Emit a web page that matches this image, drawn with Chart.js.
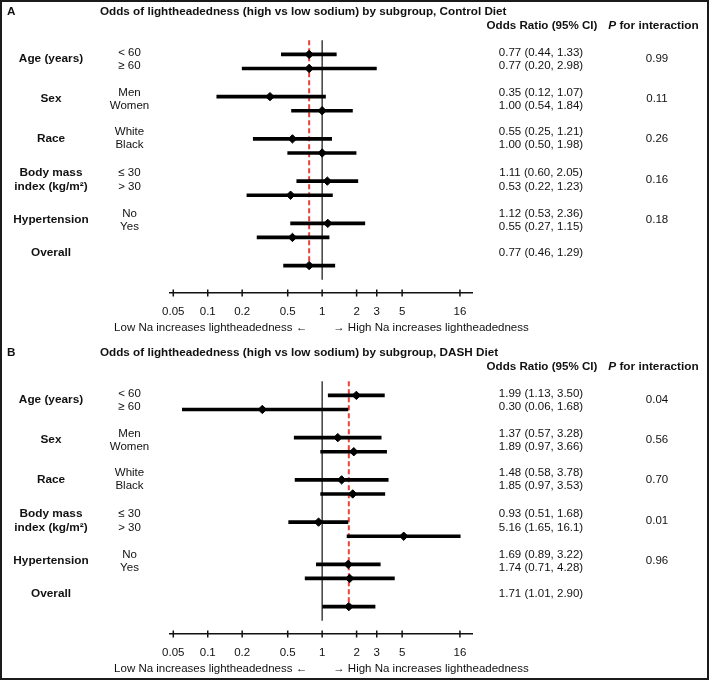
<!DOCTYPE html>
<html>
<head>
<meta charset="utf-8">
<script src="https://cdn.jsdelivr.net/npm/chart.js@4"></script>
<style>
  html, body { margin: 0; padding: 0; background: #fff; }
  #page { position: relative; width: 709px; height: 680px; overflow: hidden; }
  #page canvas { position: absolute; left: 0; }
  #frame { position: absolute; left: 0; top: 0; width: 709px; height: 680px; box-sizing: border-box; border: 2px solid #1b1b1b; pointer-events: none; }
</style>
</head>
<body>
<div id="page">
  <canvas id="chartA" width="709" height="340" style="top:0"></canvas>
  <canvas id="chartB" width="709" height="340" style="top:340px"></canvas>
  <div id="frame"></div>
</div>
<script>
const tickValues = [0.05, 0.1, 0.2, 0.5, 1, 2, 3, 5, 16];
const groupLabels = [['Age (years)'], ['Sex'], ['Race'], ['Body mass', 'index (kg/m²)'], ['Hypertension'], ['Overall']];
const subgroupLabels = ['< 60', '≥ 60', 'Men', 'Women', 'White', 'Black', '≤ 30', '> 30', 'No', 'Yes'];

// Control diet (last entry = overall)
const controlOR = [0.77, 0.77, 0.35, 1.00, 0.55, 1.00, 1.11, 0.53, 1.12, 0.55, 0.77];
const controlLo = [0.44, 0.20, 0.12, 0.54, 0.25, 0.50, 0.60, 0.22, 0.53, 0.27, 0.46];
const controlHi = [1.33, 2.98, 1.07, 1.84, 1.21, 1.98, 2.05, 1.23, 2.36, 1.15, 1.29];
const controlP = ['0.99', '0.11', '0.26', '0.16', '0.18'];

// DASH diet (last entry = overall)
const dashOR = [1.99, 0.30, 1.37, 1.89, 1.48, 1.85, 0.93, 5.16, 1.69, 1.74, 1.71];
const dashLo = [1.13, 0.06, 0.57, 0.97, 0.58, 0.97, 0.51, 1.65, 0.89, 0.71, 1.01];
const dashHi = [3.50, 1.68, 3.28, 3.66, 3.78, 3.53, 1.68, 16.1, 3.22, 4.28, 2.90];
const dashP = ['0.04', '0.56', '0.70', '0.01', '0.96'];

const FONT = '"Liberation Sans", Arial, Helvetica, sans-serif';
// y slots for the plotted rows (one blank slot between groups) and for the table text
const rowSlots = [0, 1, 3, 4, 6, 7, 9, 10, 12, 13, 15];
const textSlots = [-0.1, 0.79, 2.71, 3.62, 5.5, 6.43, 8.39, 9.42, 11.33, 12.22, 14.1];

function fmt(v) {
    return v >= 10 ? v.toFixed(1) : v.toFixed(2);
}

const forestText = {
    id: 'forestText',
    afterDraw(chart, args, opts) {
        const ctx = chart.ctx;
        const x = chart.scales.x, y = chart.scales.y, area = chart.chartArea;
        ctx.save();
        ctx.fillStyle = '#111';
        ctx.textBaseline = 'middle';

        ctx.font = 'bold 11.7px ' + FONT;
        ctx.textAlign = 'left';
        ctx.fillText(opts.letter, 7, area.top - 15);
        ctx.fillText(opts.title, 100, area.top - 15);

        ctx.textAlign = 'center';
        ctx.font = 'bold 11.6px ' + FONT;
        ctx.fillText('Odds Ratio (95% CI)', 542, area.top - 1);
        // "P for interaction" with italic P
        const rest = ' for interaction';
        ctx.font = 'italic bold 11.8px ' + FONT;
        const wP = ctx.measureText('P').width;
        ctx.font = 'bold 11.8px ' + FONT;
        const wR = ctx.measureText(rest).width;
        let sx = 653.5 - (wP + wR) / 2;
        ctx.textAlign = 'left';
        ctx.font = 'italic bold 11.8px ' + FONT;
        ctx.fillText('P', sx, area.top - 1);
        ctx.font = 'bold 11.8px ' + FONT;
        ctx.fillText(rest, sx + wP, area.top - 1);

        // group labels
        ctx.textAlign = 'center';
        ctx.font = 'bold 11.8px ' + FONT;
        groupLabels.forEach((lines, g) => {
            if (lines.length === 2) {
                ctx.fillText(lines[0], 51, y.getPixelForValue(textSlots[2 * g]));
                ctx.fillText(lines[1], 51, y.getPixelForValue(textSlots[2 * g + 1]));
            } else if (g < 5) {
                ctx.fillText(lines[0], 51, y.getPixelForValue((textSlots[2 * g] + textSlots[2 * g + 1]) / 2));
            } else {
                ctx.fillText(lines[0], 51, y.getPixelForValue(textSlots[10]));
            }
        });

        // subgroup labels, OR text, P values
        ctx.font = '11.5px ' + FONT;
        subgroupLabels.forEach((s, i) => {
            ctx.fillText(s, 129.5, y.getPixelForValue(textSlots[i]));
        });
        opts.or.forEach((v, i) => {
            const t = fmt(v) + ' (' + fmt(opts.lo[i]) + ', ' + fmt(opts.hi[i]) + ')';
            ctx.fillText(t, 541, y.getPixelForValue(textSlots[i]));
        });
        opts.p.forEach((p, g) => {
            ctx.fillText(p, 657, y.getPixelForValue((textSlots[2 * g] + textSlots[2 * g + 1]) / 2));
        });

        // direction captions around OR = 1
        const one = x.getPixelForValue(1);
        ctx.textAlign = 'right';
        ctx.fillText('Low Na increases lightheadedness \u2190', one - 15, area.bottom + 34.5);
        ctx.textAlign = 'left';
        ctx.fillText('\u2192 High Na increases lightheadedness', one + 11, area.bottom + 34.5);

        // cross tick marks on the x axis
        ctx.strokeStyle = '#111';
        ctx.lineWidth = 1.5;
        x.ticks.forEach(t => {
            const px = x.getPixelForValue(t.value);
            ctx.beginPath();
            ctx.moveTo(px, area.bottom - 3.5);
            ctx.lineTo(px, area.bottom + 3.5);
            ctx.stroke();
        });
        ctx.restore();
    }
};

function makeForest(canvasId, letter, title, or, lo, hi, p, topPad, axisH) {
    const overall = or[or.length - 1];
    return new Chart(document.getElementById(canvasId), {
        type: 'scatter',
        data: {
            datasets: [
                {
                    type: 'line',
                    data: [{ x: 1, y: -1 }, { x: 1, y: 16 }],
                    borderColor: '#222',
                    borderWidth: 1.3,
                    pointRadius: 0,
                    order: 4
                },
                {
                    type: 'line',
                    data: [{ x: overall, y: -1 }, { x: overall, y: 15 }],
                    borderColor: '#e8413a',
                    borderWidth: 2,
                    borderDash: [5, 3],
                    pointRadius: 0,
                    order: 3
                },
                {
                    type: 'bar',
                    indexAxis: 'y',
                    data: rowSlots.map((s, i) => ({ y: s, x: [lo[i], hi[i]] })),
                    backgroundColor: '#000',
                    borderWidth: 0,
                    barThickness: 3,
                    order: 2
                },
                {
                    type: 'scatter',
                    data: rowSlots.map((s, i) => ({ x: or[i], y: s })),
                    pointStyle: 'rectRot',
                    pointRadius: 4.2,
                    backgroundColor: '#000',
                    borderColor: '#000',
                    borderWidth: 1,
                    order: 1
                }
            ]
        },
        options: {
            responsive: false,
            devicePixelRatio: 1,
            animation: false,
            layout: { padding: { left: 170, right: 237, top: topPad, bottom: 0 } },
            plugins: {
                legend: { display: false },
                tooltip: { enabled: false },
                forestText: { letter: letter, title: title, or: or, lo: lo, hi: hi, p: p }
            },
            scales: {
                x: {
                    type: 'logarithmic',
                    min: 0.0468,
                    max: 20.4,
                    bounds: 'data',
                    afterBuildTicks: (s) => { s.ticks = tickValues.map(v => ({ value: v })); },
                    afterFit: (s) => { s.height = axisH; },
                    border: { display: true, color: '#111', width: 1.5 },
                    grid: { display: true, drawOnChartArea: false, drawTicks: false },
                    ticks: {
                        autoSkip: false,
                        maxRotation: 0,
                        padding: 12,
                        color: '#111',
                        font: { family: FONT, size: 11.5 },
                        callback: (v) => String(v)
                    }
                },
                y: {
                    type: 'linear',
                    min: -1,
                    max: 16,
                    reverse: true,
                    display: false
                }
            }
        },
        plugins: [forestText]
    });
}

makeForest('chartA', 'A', 'Odds of lightheadedness (high vs low sodium) by subgroup, Control Diet',
    controlOR, controlLo, controlHi, controlP, 27, 47);
makeForest('chartB', 'B', 'Odds of lightheadedness (high vs low sodium) by subgroup, DASH Diet',
    dashOR, dashLo, dashHi, dashP, 28, 46);
</script>
</body>
</html>
